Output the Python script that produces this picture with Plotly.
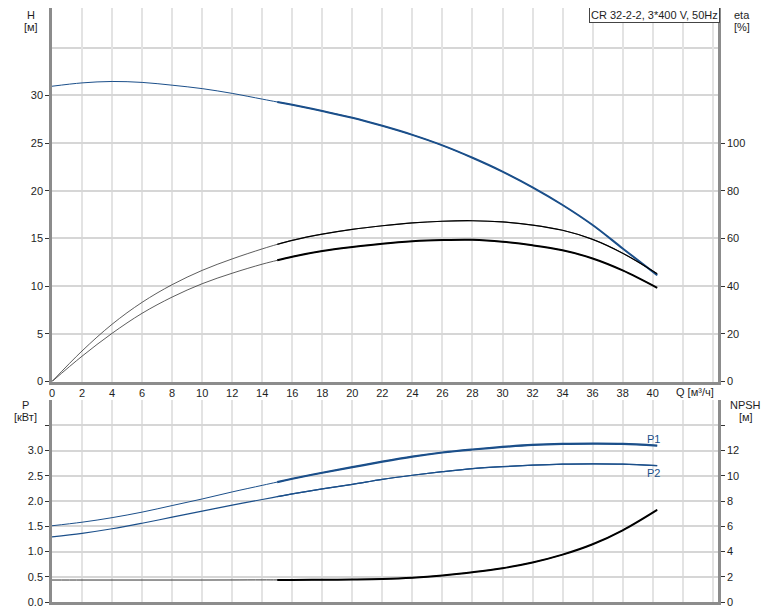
import plotly.graph_objects as go

# ---------------- data ----------------
Q = [0, 2, 4, 6, 8, 10, 12, 14, 15, 16, 18, 20, 22, 24, 26, 28, 30, 32, 34, 36, 38, 40.3]
H = [30.95, 31.3, 31.45, 31.35, 31.06, 30.7, 30.2, 29.6, 29.3, 29.0, 28.35, 27.65,
     26.8, 25.85, 24.75, 23.45, 22.0, 20.35, 18.5, 16.4, 13.95, 11.15]
ETA_UPPER = [0, 12.8, 24.0, 33.2, 40.6, 46.6, 51.4, 55.6, 57.5, 59.2, 61.8, 63.8,
             65.3, 66.5, 67.2, 67.4, 66.9, 65.6, 63.4, 59.6, 53.8, 45.2]
ETA_LOWER = [0, 10.6, 20.2, 28.6, 35.4, 41.0, 45.4, 49.2, 50.8, 52.3, 54.7, 56.4,
             57.8, 58.8, 59.3, 59.4, 58.6, 57.1, 55.0, 51.6, 46.6, 39.3]
P1 = [1.51, 1.58, 1.67, 1.78, 1.91, 2.04, 2.18, 2.31, 2.375, 2.44, 2.56, 2.67,
      2.78, 2.88, 2.96, 3.02, 3.07, 3.11, 3.13, 3.135, 3.13, 3.095]
P2 = [1.29, 1.36, 1.45, 1.56, 1.68, 1.80, 1.92, 2.03, 2.085, 2.14, 2.24, 2.33,
      2.43, 2.51, 2.58, 2.64, 2.68, 2.71, 2.73, 2.735, 2.73, 2.70]
NPSH = [1.74, 1.74, 1.74, 1.74, 1.74, 1.74, 1.745, 1.75, 1.75, 1.75, 1.76, 1.78,
        1.82, 1.92, 2.10, 2.36, 2.68, 3.13, 3.75, 4.57, 5.68, 7.30]

Q_TICKS = list(range(0, 45, 2))
Q_TICKTEXT = [str(v) if v <= 40 else "" for v in Q_TICKS]
H_TICKS = [0, 5, 10, 15, 20, 25, 30]
ETA_TICKS = [0, 20, 40, 60, 80, 100]
P_TICKS = [0, 0.5, 1.0, 1.5, 2.0, 2.5, 3.0, 3.5]
P_TICKTEXT = ["0.0", "0.5", "1.0", "1.5", "2.0", "2.5", "3.0", ""]
NPSH_TICKS = [0, 2, 4, 6, 8, 10, 12, 14]
NPSH_TICKTEXT = ["0", "2", "4", "6", "8", "10", "12", ""]
TITLE = "CR 32-2-2, 3*400 V, 50Hz"
SPLIT_Q = 15

BLUE = "#1b4f8a"
BLACK = "#000000"
AXIS = "#8c8c8c"
GRIDX = "#e3e3e3"
GRIDY = "#d6d6d6"
TXT = "#1e1e1e"
FONT = "Liberation Sans, Arial, sans-serif"

fig = go.Figure()


def add_split(ys, color, w_thin, w_thick, xa, ya, thin_color=None):
    # full thin curve, then thicker operating range on top
    fig.add_trace(go.Scatter(x=Q, y=ys, mode="lines", xaxis=xa, yaxis=ya,
                             line=dict(color=thin_color or color, width=w_thin,
                                       shape="spline", smoothing=1.0),
                             showlegend=False, hoverinfo="skip"))
    x2 = [a for a in Q if a >= SPLIT_Q]
    y2 = [b for a, b in zip(Q, ys) if a >= SPLIT_Q]
    fig.add_trace(go.Scatter(x=x2, y=y2, mode="lines", xaxis=xa, yaxis=ya,
                             line=dict(color=color, width=w_thick,
                                       shape="spline", smoothing=1.0),
                             showlegend=False, hoverinfo="skip"))


# top panel
add_split(H, BLUE, 1, 2, "x", "y")
add_split(ETA_UPPER, BLACK, 0.8, 1.2, "x", "y2", thin_color="#333333")
add_split(ETA_LOWER, BLACK, 0.8, 2, "x", "y2", thin_color="#333333")
# bottom panel
add_split(P1, BLUE, 1, 2.2, "x2", "y3")
add_split(P2, BLUE, 1.2, 1.2, "x2", "y3")
add_split(NPSH, BLACK, 1, 2, "x2", "y4", thin_color="#333333")

# layout geometry (figure pixels; page has an 8px body margin)
OFF = 8
W, HGT = 774 - OFF, 611 - OFF
ML, MR, MT, MB = 52 - OFF, W - (718 - OFF), 0, HGT - (602 - OFF)
PW = W - ML - MR
PH = HGT - MT - MB
H_PX_PER_UNIT = (381.5 - 95.3) / 30.0
H_TOP = (381.5 - OFF) / H_PX_PER_UNIT


def px(xp):
    return (xp - OFF - ML) / PW


def py(yp):
    return (HGT - MB - (yp - OFF)) / PH


tickfont = dict(family=FONT, size=11, color=TXT)
yax_common = dict(showline=True, linecolor=AXIS, linewidth=2.5,
                  ticks="outside", ticklen=4, tickcolor="#333", tickwidth=1,
                  zeroline=False, tickfont=tickfont, automargin=False)

fig.update_layout(
    width=W, height=HGT,
    margin=dict(l=ML, r=MR, t=MT, b=MB, autoexpand=False),
    paper_bgcolor="white", plot_bgcolor="white",
    font=dict(family=FONT, size=11, color=TXT),
    showlegend=False,
    xaxis=dict(domain=[0, 1], range=[0, 44.35], anchor="y",
               tickmode="array", tickvals=Q_TICKS, ticktext=Q_TICKTEXT,
               showgrid=True, gridcolor=GRIDX, gridwidth=2,
               showline=True, linecolor=AXIS, linewidth=2.5,
               ticks="", zeroline=False, tickfont=tickfont, automargin=False),
    xaxis2=dict(domain=[0, 1], range=[0, 44.35], anchor="y3",
                tickmode="array", tickvals=Q_TICKS, showticklabels=False,
                showgrid=True, gridcolor=GRIDX, gridwidth=2,
                showline=True, linecolor=AXIS, linewidth=2.5,
                ticks="", zeroline=False, automargin=False),
    yaxis=dict(domain=[py(381.5), 1], range=[0, H_TOP], anchor="x",
               tickmode="array", tickvals=H_TICKS,
               showgrid=True, gridcolor=GRIDY, gridwidth=2,
               minor=dict(tickmode="array", tickvals=[35], showgrid=True,
                          gridcolor=GRIDY, gridwidth=2, ticks=""),
               **yax_common),
    yaxis2=dict(overlaying="y", side="right", range=[0, 4 * H_TOP], anchor="x",
                tickmode="array", tickvals=ETA_TICKS, showgrid=False,
                **yax_common),
    yaxis3=dict(domain=[0, py(400)], range=[0, 4], anchor="x2",
                tickmode="array", tickvals=P_TICKS, ticktext=P_TICKTEXT,
                showgrid=True, gridcolor=GRIDY, gridwidth=2,
                **yax_common),
    yaxis4=dict(overlaying="y3", side="right", range=[0, 16], anchor="x2",
                tickmode="array", tickvals=NPSH_TICKS, ticktext=NPSH_TICKTEXT,
                showgrid=False, **yax_common),
)


def label(text, xp, yp, color=TXT):
    fig.add_annotation(text=text, xref="paper", yref="paper", x=px(xp), y=py(yp),
                       xanchor="center", yanchor="middle", showarrow=False,
                       font=dict(family=FONT, size=11, color=color))


label("H", 31, 15)
label("[м]", 31, 27)
label("eta", 742, 15)
label("[%]", 742, 27)
label("P", 25.5, 404.5)
label("[кВт]", 25.5, 417)
label("NPSH", 745.5, 404.5)
label("[м]", 745.5, 417)
label("Q [м³/ч]", 695, 392)

fig.add_annotation(text=TITLE, xref="paper", yref="paper", x=px(654), y=py(15),
                   xanchor="center", yanchor="middle", showarrow=False,
                   font=dict(family=FONT, size=11, color=TXT),
                   bgcolor="white", bordercolor="#444", borderwidth=1, borderpad=1)

fig.add_annotation(text="P1", x=Q[-1], y=P1[-1], xref="x2", yref="y3",
                   xshift=-4, yshift=7, showarrow=False,
                   font=dict(family=FONT, size=11, color=BLUE))
fig.add_annotation(text="P2", x=Q[-1], y=P2[-1], xref="x2", yref="y3",
                   xshift=-4, yshift=-7, showarrow=False,
                   font=dict(family=FONT, size=11, color=BLUE))

fig.write_html("out.html")
